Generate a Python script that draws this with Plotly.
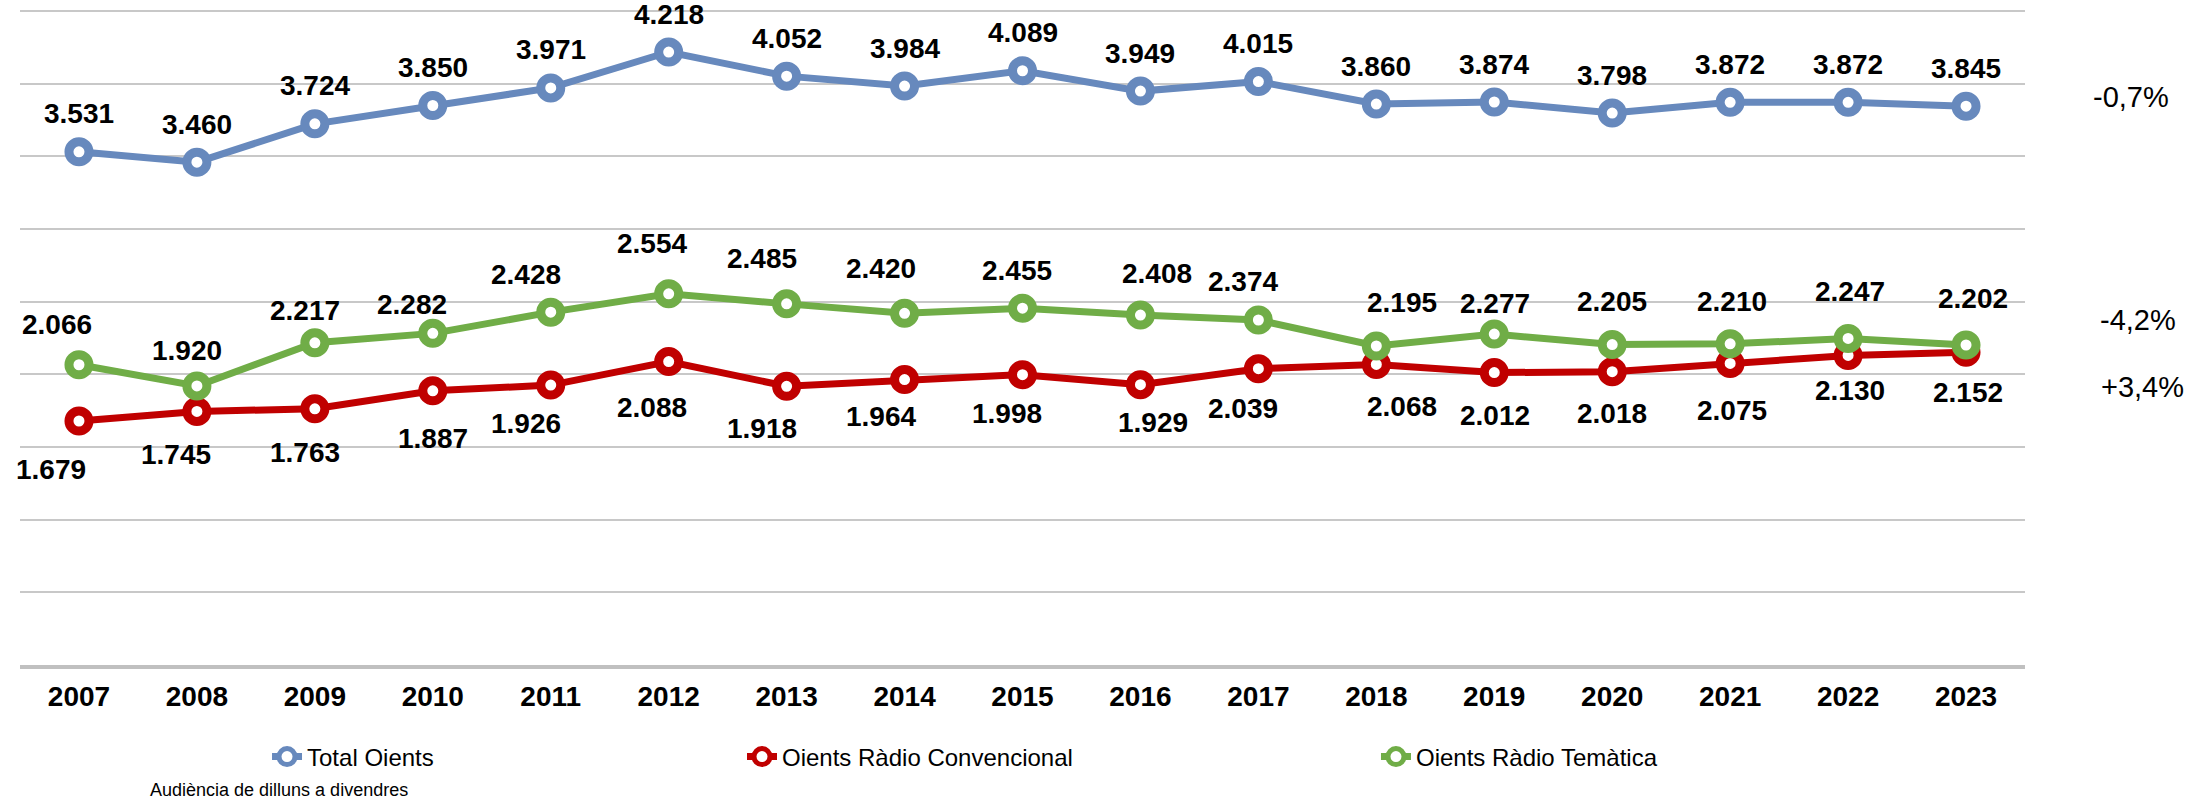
import plotly.graph_objects as go

years = [str(y) for y in range(2007, 2024)]
total = [3531, 3460, 3724, 3850, 3971, 4218, 4052, 3984, 4089, 3949, 4015, 3860, 3874, 3798, 3872, 3872, 3845]
convencional = [1679, 1745, 1763, 1887, 1926, 2088, 1918, 1964, 1998, 1929, 2039, 2068, 2012, 2018, 2075, 2130, 2152]
tematica = [2066, 1920, 2217, 2282, 2428, 2554, 2485, 2420, 2455, 2408, 2374, 2195, 2277, 2205, 2210, 2247, 2202]
series_names = ["Total Oients", "Oients Ràdio Convencional", "Oients Ràdio Temàtica"]
variation_labels = ["-0,7%", "-4,2%", "+3,4%"]
footnote = "Audiència de dilluns a divendres"

# label offsets (pixels) relative to each point
total_dx = [0] * 17
total_up = [38] * 17
tem_dx = [-22, -10, -10, -21, -25, -17, -25, -24, -6, 17, -15, 26, 1, 0, 2, 2, 7]
tem_up = [40, 35, 32, 29, 38, 50, 45, 45, 38, 42, 39, 44, 31, 43, 42, 47, 46]
conv_dx = [-28, -21, -10, 0, -25, -17, -25, -24, -16, 13, -15, 26, 1, 0, 2, 2, 2]
conv_down = [48, 43, 44, 48, 38, 46, 42, 37, 39, 38, 40, 42, 43, 42, 47, 35, 40]

BLUE = "#6789BD"
RED = "#C00000"
GREEN = "#70AD47"
FONT = "Liberation Sans, Arial, sans-serif"

def fmt(v):
    return f"{v:,}".replace(",", ".")

fig = go.Figure()
order = [(total, BLUE, "legend"), (convencional, RED, "legend2"), (tematica, GREEN, "legend3")]
for (vals, col, lg), name in zip(order, series_names):
    fig.add_trace(go.Scatter(
        x=years, y=vals, name=name, mode="lines+markers",
        line=dict(color=col, width=7),
        marker=dict(size=20, color="white", line=dict(color=col, width=9)),
        legend=lg, cliponaxis=False,
    ))

annotations = []
for vals, dxs, dys, sign in [(total, total_dx, total_up, 1), (tematica, tem_dx, tem_up, 1), (convencional, conv_dx, conv_down, -1)]:
    for i, (v, dx, dy) in enumerate(zip(vals, dxs, dys)):
        annotations.append(dict(
            x=i, y=v, xref="x", yref="y", text=fmt(v), showarrow=False,
            xanchor="center", yanchor="middle", xshift=dx, yshift=sign * dy,
            font=dict(family=FONT, size=28, color="black", weight="bold"),
        ))

var_pos = [(1.0529, 0.8659), (1.0563, 0.5259), (1.0588, 0.4238)]
for txt, (px, py) in zip(variation_labels, var_pos):
    annotations.append(dict(
        x=px, y=py, xref="paper", yref="paper", text=txt, showarrow=False,
        xanchor="center", yanchor="middle",
        font=dict(family=FONT, size=29, color="black"),
    ))

annotations.append(dict(
    x=0.0638, y=-0.2085, xref="paper", yref="paper", text=footnote, showarrow=False,
    xanchor="left", yanchor="bottom",
    font=dict(family=FONT, size=18, color="black"),
))

legend_common = dict(orientation="h", yanchor="middle", y=-0.1402, xanchor="left",
                     bgcolor="rgba(0,0,0,0)", font=dict(family=FONT, size=24, color="black"))

fig.update_layout(
    width=2212, height=802,
    margin=dict(l=20, r=187, t=9, b=137, autoexpand=False),
    paper_bgcolor="white", plot_bgcolor="white",
    showlegend=True,
    legend=dict(x=0.1232, **legend_common),
    legend2=dict(x=0.3601, **legend_common),
    legend3=dict(x=0.6763, **legend_common),
    annotations=annotations,
    xaxis=dict(
        type="category", range=[-0.5, 16.5], showgrid=False, zeroline=False,
        showline=True, linecolor="#C0C0C0", linewidth=4,
        ticks="", ticklabelstandoff=3,
        tickfont=dict(family=FONT, size=28, color="black", weight="bold"),
    ),
    yaxis=dict(
        range=[0, 4514], tick0=0, dtick=500, showgrid=True, gridcolor="#C8C8C8", gridwidth=2,
        zeroline=False, showticklabels=False, ticks="",
    ),
)

fig.write_html("out.html", config={"displayModeBar": False},
               post_script="document.body.style.margin='0';")
